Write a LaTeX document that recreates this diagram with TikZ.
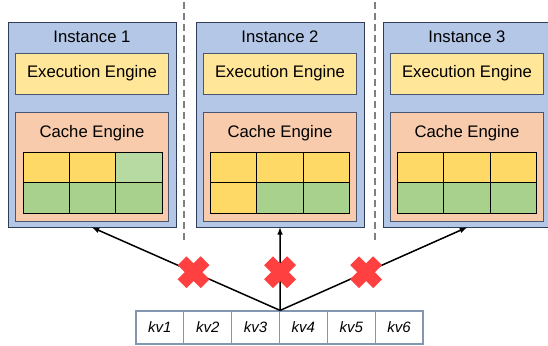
\documentclass[tikz,border=0pt]{standalone}
\usepackage{fontspec}
\setmainfont{Liberation Sans}
\usetikzlibrary{shapes.misc}
\definecolor{instfill}{HTML}{B4C7E7}
\definecolor{instline}{HTML}{2F3D58}
\definecolor{execfill}{HTML}{FFE699}
\definecolor{cachefill}{HTML}{F8CBAD}
\definecolor{boxline}{HTML}{4A5670}
\definecolor{cellyel}{HTML}{FFD966}
\definecolor{cellgrn}{HTML}{A9D18E}
\definecolor{celllgt}{HTML}{B7D9A2}
\definecolor{kvline}{HTML}{8497B0}
\definecolor{xred}{HTML}{FF4040}
\definecolor{sepgray}{HTML}{808080}
\begin{document}
\begin{tikzpicture}[x=1pt,y=-1pt,
    font=\fontsize{16.7}{18}\selectfont,
    inst/.style={draw=instline,line width=0.8pt,fill=instfill,minimum width=168pt,minimum height=205pt,inner sep=0pt},
    exec/.style={draw=boxline,line width=0.8pt,fill=execfill,minimum width=153pt,minimum height=41pt,inner sep=0pt},
    cache/.style={draw=boxline,line width=0.8pt,fill=cachefill,minimum width=153pt,minimum height=109pt,inner sep=0pt},
    cell/.style={draw=black,line width=0.8pt,minimum width=46.3pt,minimum height=30.5pt,inner sep=0pt},
    ylw/.style={cell,fill=cellyel},
    grn/.style={cell,fill=cellgrn},
    lgt/.style={cell,fill=celllgt},
    kvbox/.style={draw=kvline,line width=1.2pt,fill=white,minimum width=47.8pt,minimum height=33pt,inner sep=0pt,font=\fontsize{15}{16}\selectfont\itshape},
    nogo/.style={cross out,draw=xred,line width=12.5pt,minimum size=23pt,inner sep=0pt,outer sep=0pt},
    sep/.style={draw=sepgray,line width=1.8pt,dash pattern=on 7pt off 4pt}]
    \useasboundingbox (0,0) rectangle (548,345);
    \clip (0,0) rectangle (548,345);
    %% Separators
    \draw[sep] (184,2) -- (184,243);
    \draw[sep] (375,2) -- (375,243);
    %% Instances
    \node[inst] (I1) at (92,124.5) {};
    \node[inst] (I2) at (280,124.5) {};
    \node[inst] (I3) at (467,124.5) {};
    \node (T1) at (92,37) {Instance 1};
    \node (T2) at (280,37) {Instance 2};
    \node (T3) at (467,37) {Instance 3};
    %% Execution engines
    \node[exec] (E1) at (92,73.5) {Execution Engine};
    \node[exec] (E2) at (280,73.5) {Execution Engine};
    \node[exec] (E3) at (467,73.5) {Execution Engine};
    %% Cache engines
    \node[cache] (C1) at (92,166.5) {};
    \node[cache] (C2) at (280,166.5) {};
    \node[cache] (C3) at (467,166.5) {};
    \node (L1) at (92,133) {Cache Engine};
    \node (L2) at (280,133) {Cache Engine};
    \node (L3) at (467,133) {Cache Engine};
    %% Cache slots
    \node[ylw] (a11) at (46.2,167.3) {};
    \node[ylw] (a12) at (92.5,167.3) {};
    \node[lgt] (a13) at (138.8,167.3) {};
    \node[grn] (a21) at (46.2,197.8) {};
    \node[grn] (a22) at (92.5,197.8) {};
    \node[grn] (a23) at (138.8,197.8) {};
    \node[ylw] (b11) at (233.7,167.3) {};
    \node[ylw] (b12) at (280,167.3) {};
    \node[ylw] (b13) at (326.3,167.3) {};
    \node[ylw] (b21) at (233.7,197.8) {};
    \node[grn] (b22) at (280,197.8) {};
    \node[grn] (b23) at (326.3,197.8) {};
    \node[ylw] (c11) at (420.7,167.3) {};
    \node[ylw] (c12) at (467,167.3) {};
    \node[ylw] (c13) at (513.3,167.3) {};
    \node[grn] (c21) at (420.7,197.8) {};
    \node[grn] (c22) at (467,197.8) {};
    \node[grn] (c23) at (513.3,197.8) {};
    %% Key-value pairs
    \node[kvbox] (kv1) at (159.9,327.5) {kv1};
    \node[kvbox] (kv2) at (207.7,327.5) {kv2};
    \node[kvbox] (kv3) at (255.6,327.5) {kv3};
    \node[kvbox] (kv4) at (303.4,327.5) {kv4};
    \node[kvbox] (kv5) at (351.2,327.5) {kv5};
    \node[kvbox] (kv6) at (399.1,327.5) {kv6};
    %% Arrows
    \draw[line width=1.5pt,-latex] (kv3.north east) -- (I1.south) coordinate[pos=0.46] (x1);
    \draw[line width=1.5pt,-latex] (kv3.north east) -- (I2.south) coordinate[pos=0.46] (x2);
    \draw[line width=1.5pt,-latex] (kv3.north east) -- (I3.south) coordinate[pos=0.46] (x3);
    %% Blocked
    \node[nogo] (X1) at (x1) {};
    \node[nogo] (X2) at (x2) {};
    \node[nogo] (X3) at (x3) {};
\end{tikzpicture}
\end{document}
